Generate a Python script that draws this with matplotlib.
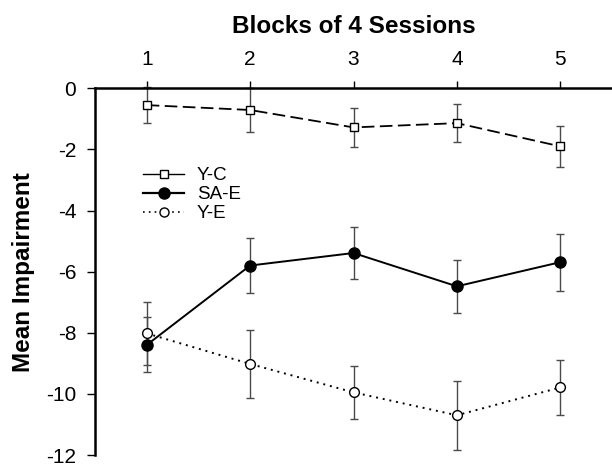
import matplotlib
matplotlib.use("Agg")
import matplotlib.pyplot as plt
from matplotlib.lines import Line2D

plt.rcParams['font.family'] = ['Liberation Sans', 'DejaVu Sans']

blocks = [1, 2, 3, 4, 5]
yc_mean = [-0.55, -0.71, -1.28, -1.14, -1.90]
yc_se = [0.58, 0.72, 0.65, 0.62, 0.66]
sae_mean = [-8.40, -5.80, -5.39, -6.48, -5.69]
sae_se = [0.90, 0.91, 0.86, 0.86, 0.93]
ye_mean = [-8.02, -9.02, -9.95, -10.70, -9.79]
ye_se = [1.04, 1.10, 0.87, 1.13, 0.89]

yticks = [0, -2, -4, -6, -8, -10, -12]

W, H = 612, 465
fig = plt.figure(figsize=(W / 100, H / 100), dpi=100)
ax_left, ax_top, ax_bottom = 95, 88.3, 455
ax = fig.add_axes([ax_left / W, 1 - ax_bottom / H, 1 - ax_left / W,
                   (ax_bottom - ax_top) / H])

err_kw = dict(ecolor='#4a4a4a', elinewidth=1.0, capsize=3, capthick=1.0)

ax.errorbar(blocks, yc_mean, yerr=yc_se, color='black', lw=1.3,
            dashes=(7, 3), marker='s', ms=6, mfc='white', mec='black',
            mew=1.0, clip_on=False, **err_kw)
ax.errorbar(blocks, sae_mean, yerr=sae_se, color='black', lw=1.4,
            ls='-', marker='o', ms=8, mfc='black', mec='black',
            clip_on=False, **err_kw)
ax.errorbar(blocks, ye_mean, yerr=ye_se, color='black', lw=1.4,
            dashes=(1, 2.5), marker='o', ms=7, mfc='white', mec='black',
            mew=1.0, clip_on=False, **err_kw)

ax.set_xlim(0.5, 5.5)
ax.set_ylim(-12, 0)
ax.set_xticks(blocks)
ax.set_yticks(yticks)
ax.set_yticklabels([str(v) for v in yticks])

ax.xaxis.tick_top()
ax.xaxis.set_label_position('top')
ax.spines['bottom'].set_visible(False)
ax.spines['right'].set_visible(False)
ax.spines['top'].set_linewidth(1.8)
ax.spines['left'].set_linewidth(1.8)
ax.tick_params(axis='x', direction='out', length=5, width=1.0,
               labelsize=15, pad=9)
ax.tick_params(axis='y', direction='out', length=5.5, width=1.0,
               labelsize=15, pad=8)

ax.set_xlabel('Blocks of 4 Sessions', fontsize=17.5, fontweight='bold',
              labelpad=12)
ax.set_ylabel('Mean Impairment', fontsize=17.5, fontweight='bold')
ax.yaxis.set_label_coords(-60 / (W - ax_left),
                          1 - (271.7 - ax_top) / (ax_bottom - ax_top))

handles = [
    Line2D([], [], color='black', lw=1.0, marker='s', ms=5.5, mfc='white',
           mec='black', mew=1.0),
    Line2D([], [], color='black', lw=1.6, marker='o', ms=8, mfc='black',
           mec='black'),
    Line2D([], [], color='black', lw=1.2, dashes=(1, 2.5), marker='o', ms=6.5,
           mfc='white', mec='black', mew=1.0),
]
labels = ['Y-C', 'SA-E', 'Y-E']
fig.legend(handles, labels, loc='upper left',
           bbox_to_anchor=(143 / W, 1 - 167 / H), bbox_transform=fig.transFigure,
           frameon=False, fontsize=13.5, handlelength=2.2, handletextpad=0.66,
           labelspacing=0.1, borderpad=0, borderaxespad=0, numpoints=1)

fig.savefig('out.png', dpi=100)
